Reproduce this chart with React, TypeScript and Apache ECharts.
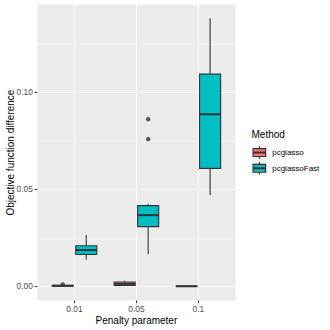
import React, { useEffect, useRef } from "react";
import * as echarts from "echarts";

const categories = ["0.01", "0.05", "0.1"];
const methods = ["pcglasso", "pcglassoFast"];
const methodColors = ["#F8766D", "#00BFC4"];

// [min, Q1, median, Q3, max] per category
const pcglassoStats = [
  [0.0, 0.0001, 0.0003, 0.0005, 0.0008],
  [0.0001, 0.0005, 0.0013, 0.0022, 0.0029],
  [0.0, 0.00002, 0.00005, 0.0001, 0.0002],
];
const pcglassoFastStats = [
  [0.0138, 0.0164, 0.0187, 0.0209, 0.0265],
  [0.0166, 0.0308, 0.0367, 0.0416, 0.0424],
  [0.0471, 0.0608, 0.0887, 0.1094, 0.1381],
];
// [category index, value]
const pcglassoOutliers = [[0, 0.001]];
const pcglassoFastOutliers = [
  [1, 0.0759],
  [1, 0.0862],
];

const yTicks = [0, 0.05, 0.1];
const yMinorTicks = [0.025, 0.075, 0.125];

const FONT = "Liberation Sans, Arial, Helvetica, sans-serif";
const BORDER = "#333333";

export default function App() {
  const ref = useRef<HTMLDivElement>(null);

  useEffect(() => {
    if (!ref.current) return;
    const chart = echarts.init(ref.current, undefined, { renderer: "svg" });

    const panel = { left: 37.3, top: 4.7, width: 198.2, height: 295.8 };
    const dodge = 0.19;
    const boxW = 0.34;

    const makeBox = (name: string, stats: number[][], color: string, offset: number) => ({
      type: "custom",
      name,
      xAxisIndex: 0,
      yAxisIndex: 0,
      data: stats.map((s, i) => [i, ...s]),
      encode: { x: 0, y: [1, 2, 3, 4, 5] },
      renderItem: (params: any, api: any) => {
        const x = api.value(0) + offset;
        const lo = api.coord([x, api.value(1)]);
        const q1 = api.coord([x, api.value(2)]);
        const med = api.coord([x, api.value(3)]);
        const q3 = api.coord([x, api.value(4)]);
        const hi = api.coord([x, api.value(5)]);
        const half = api.size([boxW, 0])[0] / 2;
        const line = { stroke: BORDER, lineWidth: 1.1 };
        return {
          type: "group",
          children: [
            { type: "line", shape: { x1: lo[0], y1: lo[1], x2: q1[0], y2: q1[1] }, style: line },
            { type: "line", shape: { x1: q3[0], y1: q3[1], x2: hi[0], y2: hi[1] }, style: line },
            {
              type: "rect",
              shape: { x: q3[0] - half, y: q3[1], width: half * 2, height: q1[1] - q3[1] },
              style: { fill: color, stroke: BORDER, lineWidth: 1.1 },
            },
            {
              type: "line",
              shape: { x1: med[0] - half, y1: med[1], x2: med[0] + half, y2: med[1] },
              style: { stroke: BORDER, lineWidth: 2 },
            },
          ],
        };
      },
    });

    const makeOutliers = (name: string, pts: number[][], offset: number) => ({
      type: "scatter",
      name: name + " outliers",
      xAxisIndex: 0,
      yAxisIndex: 0,
      symbolSize: 4.5,
      itemStyle: { color: BORDER },
      data: pts.map(([i, v]) => [i + offset, v]),
      z: 5,
    });

    // legend
    const legX = 251.5;
    const keyS = 15.7;
    const legTop = 144.7;
    const legendChildren: any[] = [
      {
        type: "text",
        x: legX,
        y: 134,
        style: { text: "Method", font: `10px ${FONT}`, fill: "#000", verticalAlign: "middle", align: "left" },
      },
    ];
    methods.forEach((m, i) => {
      const top = legTop + i * keyS;
      const cx = legX + keyS / 2;
      legendChildren.push(
        { type: "rect", shape: { x: legX, y: top, width: keyS, height: keyS }, style: { fill: "#F2F2F2" } },
        { type: "line", shape: { x1: cx, y1: top + keyS * 0.1, x2: cx, y2: top + keyS * 0.25 }, style: { stroke: BORDER, lineWidth: 1.1 } },
        { type: "line", shape: { x1: cx, y1: top + keyS * 0.75, x2: cx, y2: top + keyS * 0.9 }, style: { stroke: BORDER, lineWidth: 1.1 } },
        {
          type: "rect",
          shape: { x: legX + keyS * 0.1, y: top + keyS * 0.25, width: keyS * 0.8, height: keyS * 0.5 },
          style: { fill: methodColors[i], stroke: BORDER, lineWidth: 1.1 },
        },
        {
          type: "line",
          shape: { x1: legX + keyS * 0.1, y1: top + keyS / 2, x2: legX + keyS * 0.9, y2: top + keyS / 2 },
          style: { stroke: BORDER, lineWidth: 2 },
        },
        {
          type: "text",
          x: legX + keyS + 5,
          y: top + keyS / 2,
          style: { text: m, font: `8px ${FONT}`, fill: "#000", verticalAlign: "middle", align: "left" },
        }
      );
    });

    chart.setOption({
      animation: false,
      backgroundColor: "#ffffff",
      textStyle: { fontFamily: FONT },
      grid: {
        left: panel.left,
        top: panel.top,
        width: panel.width,
        height: panel.height,
        show: true,
        backgroundColor: "#EBEBEB",
        borderWidth: 0,
        containLabel: false,
        outerBoundsMode: "none",
      },
      xAxis: {
        type: "value",
        min: -0.6,
        max: 2.6,
        position: "bottom",
        name: "Penalty parameter",
        nameLocation: "middle",
        nameGap: 19.5,
        nameMoveOverlap: false,
        nameTextStyle: { fontSize: 10, color: "#000", fontFamily: FONT, verticalAlign: "middle" },
        axisLine: { show: false, onZero: false },
        axisTick: { show: true, length: 2.7, customValues: [0, 1, 2], lineStyle: { color: BORDER, width: 1 } },
        axisLabel: {
          customValues: [0, 1, 2],
          formatter: (v: number) => categories[Math.round(v)] ?? "",
          fontSize: 8.4,
          color: "#4D4D4D",
          margin: 4,
          fontFamily: FONT,
        },
        splitLine: { show: true, lineStyle: { color: "#FFFFFF", width: 1.1 } },
      },
      yAxis: [
        {
          type: "value",
          min: -0.0073,
          max: 0.1452,
          position: "left",
          name: "Objective function difference",
          nameLocation: "middle",
          nameGap: 27.3,
          nameMoveOverlap: false,
          nameTextStyle: { fontSize: 10, color: "#000", fontFamily: FONT, verticalAlign: "middle" },
          axisLine: { show: false, onZero: false },
          axisTick: { show: true, length: 2.7, customValues: yTicks, lineStyle: { color: BORDER, width: 1 } },
          axisLabel: {
            customValues: yTicks,
            formatter: (v: number) => v.toFixed(2),
            fontSize: 8.4,
            color: "#4D4D4D",
            margin: 4.5,
            fontFamily: FONT,
          },
          splitLine: { show: true, lineStyle: { color: "#FFFFFF", width: 1.1 } },
        },
        {
          type: "value",
          min: -0.0073,
          max: 0.1452,
          position: "left",
          axisLine: { show: false, onZero: false },
          axisTick: { show: false, customValues: yMinorTicks },
          axisLabel: { show: false, customValues: yMinorTicks },
          splitLine: { show: true, lineStyle: { color: "#FFFFFF", width: 0.55 } },
        },
      ],
      series: [
        makeBox(methods[0], pcglassoStats, methodColors[0], -dodge),
        makeBox(methods[1], pcglassoFastStats, methodColors[1], dodge),
        makeOutliers(methods[0], pcglassoOutliers, -dodge),
        makeOutliers(methods[1], pcglassoFastOutliers, dodge),
      ],
      graphic: [{ type: "group", children: legendChildren }],
    });

    return () => chart.dispose();
  }, []);

  return (
    <div
      ref={ref}
      style={{ position: "fixed", left: 0, top: 0, width: 330, height: 330, background: "#fff" }}
    />
  );
}
